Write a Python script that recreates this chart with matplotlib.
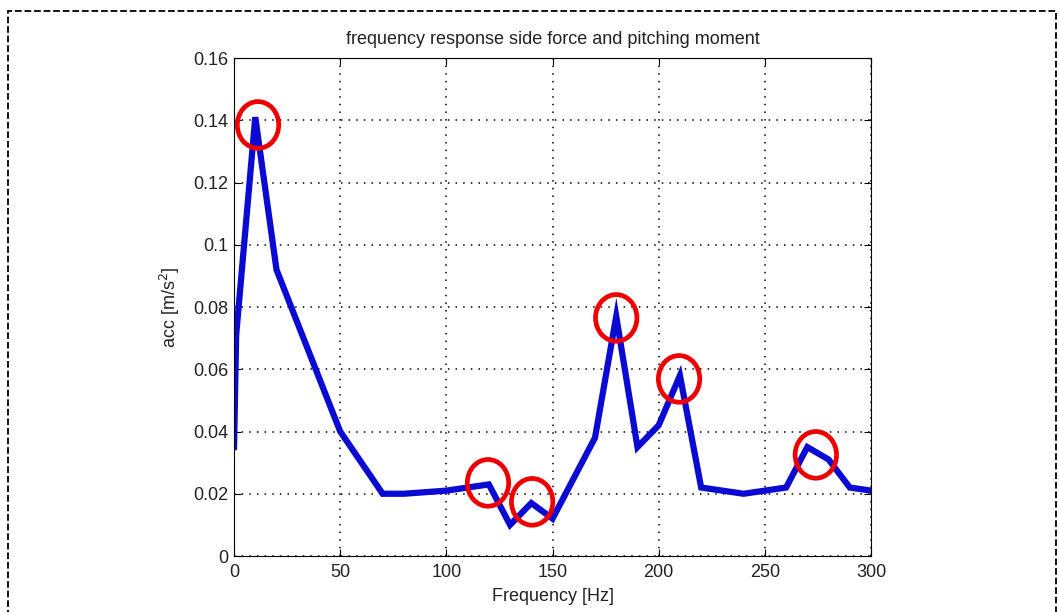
import matplotlib
matplotlib.use('Agg')
import matplotlib.pyplot as plt
from matplotlib.patches import Ellipse, Rectangle

plt.rcParams['font.family'] = ['Liberation Sans', 'DejaVu Sans']

# frequency response values
freq = [0, 1, 10, 20, 50, 70, 80, 100, 110, 120, 130, 140, 150, 170, 180,
        190, 200, 210, 220, 240, 250, 260, 270, 280, 290, 300]
acc = [0.035, 0.071, 0.141, 0.092, 0.040, 0.020, 0.020, 0.021, 0.022, 0.023,
       0.010, 0.017, 0.012, 0.038, 0.077, 0.035, 0.042, 0.058, 0.022, 0.020,
       0.021, 0.022, 0.035, 0.031, 0.022, 0.021]

# peaks marked with red circles
peak_f = [11.3, 119.6, 140.4, 180.0, 209.6, 274.0]
peak_a = [0.1385, 0.0235, 0.0174, 0.0765, 0.0569, 0.0325]

yticks = [0, 0.02, 0.04, 0.06, 0.08, 0.1, 0.12, 0.14, 0.16]
ytick_labels = ['0', '0.02', '0.04', '0.06', '0.08', '0.1', '0.12', '0.14', '0.16']
xticks = [0, 50, 100, 150, 200, 250, 300]

fs = 13
txt = '#222222'

fig = plt.figure(figsize=(10.59, 6.12), dpi=100)
ax = fig.add_axes([0.221, 0.0915, 0.6015, 0.8137])

ax.plot(freq, acc, color='#0a0ad2', linewidth=4.5, solid_joinstyle='miter')

for f, a in zip(peak_f, peak_a):
    ax.add_patch(Ellipse((f, a), 19.5, 0.0150, fill=False, edgecolor='#ee0000', linewidth=3.4, zorder=5))

ax.set_xlim(0, 300)
ax.set_ylim(0, 0.16)
ax.set_xticks(xticks)
ax.set_yticks(yticks)
ax.set_yticklabels(ytick_labels)
ax.tick_params(direction='in', top=True, right=True, labelsize=fs, length=5,
               labelcolor=txt)
ax.tick_params(axis='x', pad=6)
ax.tick_params(axis='y', pad=4)
ax.grid(True, linestyle=(0, (1, 4)), color='black', linewidth=1.1)
ax.set_title('frequency response side force and pitching moment', fontsize=fs, pad=10, color=txt)
ax.set_xlabel('Frequency [Hz]', fontsize=fs, labelpad=5, color=txt)
ax.set_ylabel('acc [m/s$^2$]', fontsize=fs, labelpad=8, color=txt)

# dashed frame around the figure
fig.patches.append(Rectangle((8 / 1059, -0.05), 1048 / 1059, 1.05 - 11 / 612,
                             transform=fig.transFigure, fill=False,
                             edgecolor='black', linestyle='--', linewidth=1.3))

fig.savefig('out.png', dpi=100)
